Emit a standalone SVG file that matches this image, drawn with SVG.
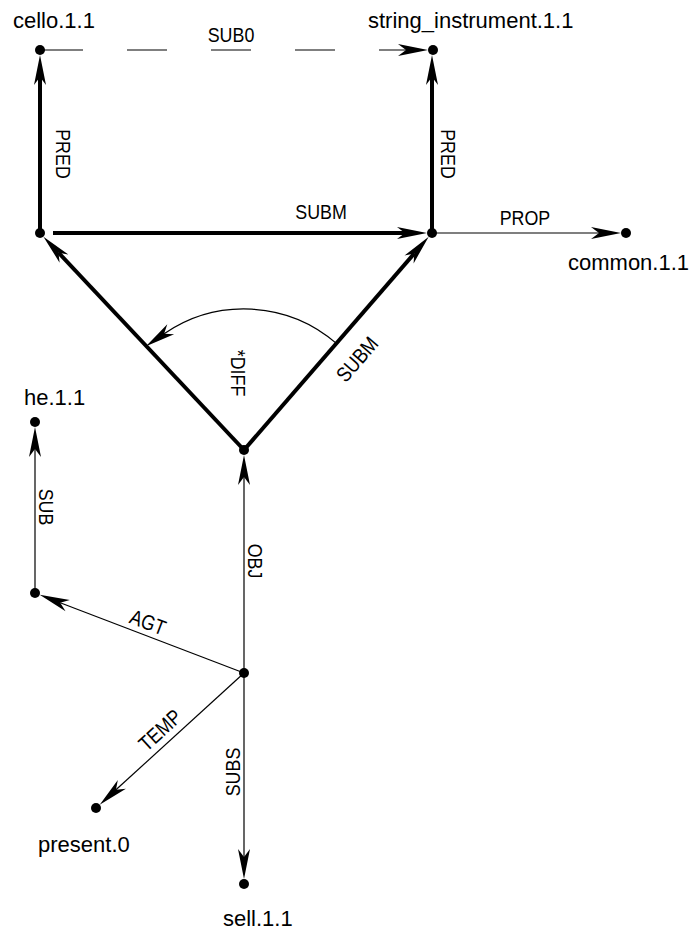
<svg xmlns="http://www.w3.org/2000/svg" width="695" height="933" viewBox="0 0 695 933">
  <style>
    .dot { fill: #000; }
    .name { font-family: "Liberation Sans", Arial, Helvetica, sans-serif; font-size: 22px; fill: #000; }
    .lbl { font-family: "Liberation Sans", Arial, Helvetica, sans-serif; font-size: 21px; fill: #000; text-anchor: middle; }
    .thin { stroke: #000; stroke-width: 1.2; fill: none; }
    .thick { stroke: #000; stroke-width: 4; fill: none; }
    .dash { stroke-dasharray: 40 44; }
  </style>
  <defs>
    <marker id="head" markerUnits="userSpaceOnUse" orient="auto" refX="0" refY="0" markerWidth="32" markerHeight="14" overflow="visible">
      <path d="M22,0 L-8,-6 L0,0 L-8,6 Z" fill="#000"/>
    </marker>
  </defs>

  <!-- connectors -->
  <g id="edges">
    <line class="thin dash" x1="43" y1="50" x2="406" y2="50" marker-end="url(#head)"/>
    <text class="lbl" transform="translate(231,42) scale(0.85,1)">SUB0</text>

    <line class="thick" x1="40" y1="233" x2="40" y2="77" marker-end="url(#head)"/>
    <text class="lbl" transform="translate(64,154) rotate(90) scale(0.85,1)" dy="7.5">PRED</text>

    <line class="thick" x1="432" y1="233" x2="432" y2="77" marker-end="url(#head)"/>
    <text class="lbl" transform="translate(449,154) rotate(90) scale(0.85,1)" dy="7.5">PRED</text>

    <line class="thick" x1="53" y1="233" x2="405" y2="233" marker-end="url(#head)"/>
    <text class="lbl" transform="translate(321,219) scale(0.85,1)">SUBM</text>

    <line class="thin" x1="432" y1="233" x2="599" y2="233" marker-end="url(#head)"/>
    <text class="lbl" transform="translate(525,225) scale(0.85,1)">PROP</text>

    <line class="thick" x1="244" y1="450" x2="58.5" y2="252.7" marker-end="url(#head)"/>
    <line class="thick" x1="244" y1="450" x2="414.3" y2="253.4" marker-end="url(#head)"/>
    <text class="lbl" transform="translate(357,359) rotate(-49.1) scale(0.85,1)" dy="7.5">SUBM</text>

    <path class="thin" d="M336.4,343.4 A141,141 0 0 0 164.1,333.8" marker-end="url(#head)"/>
    <text class="lbl" transform="translate(238.5,373) rotate(90) scale(0.85,1)" dy="7.5">*DIFF</text>

    <line class="thin" x1="244" y1="673" x2="244" y2="477" marker-end="url(#head)"/>
    <text class="lbl" transform="translate(256,561) rotate(90) scale(0.85,1)" dy="7.5">OBJ</text>

    <line class="thin" x1="35" y1="593" x2="35" y2="449" marker-end="url(#head)"/>
    <text class="lbl" transform="translate(47,507) rotate(90) scale(0.85,1)" dy="7.5">SUB</text>

    <line class="thin" x1="244" y1="673" x2="60.2" y2="602.7" marker-end="url(#head)"/>
    <text class="lbl" transform="translate(148,622) rotate(20.9) scale(0.85,1)" dy="7.5">AGT</text>

    <line class="thin" x1="244" y1="673" x2="115.95" y2="789.8" marker-end="url(#head)"/>
    <text class="lbl" transform="translate(160,730) rotate(-42.4) scale(0.85,1)" dy="7.5">TEMP</text>

    <line class="thin" x1="244" y1="673" x2="244" y2="857" marker-end="url(#head)"/>
    <text class="lbl" transform="translate(232,772) rotate(-90) scale(0.85,1)" dy="7.5">SUBS</text>
  </g>

  <!-- nodes -->
  <g id="cello">
    <circle class="dot" cx="40" cy="50" r="5"/>
    <text class="name" x="13" y="28">cello.1.1</text>
  </g>
  <g id="string_instrument">
    <circle class="dot" cx="433" cy="50" r="5"/>
    <text class="name" x="368" y="28">string_instrument.1.1</text>
  </g>
  <g id="cello_sub">
    <circle class="dot" cx="40" cy="233" r="5"/>
  </g>
  <g id="string_instrument_sub">
    <circle class="dot" cx="432" cy="233" r="5"/>
  </g>
  <g id="common">
    <circle class="dot" cx="626" cy="233" r="5"/>
    <text class="name" x="568" y="270">common.1.1</text>
  </g>
  <g id="diff">
    <circle class="dot" cx="244" cy="450" r="5"/>
  </g>
  <g id="he">
    <circle class="dot" cx="35" cy="422" r="5"/>
    <text class="name" x="24" y="405">he.1.1</text>
  </g>
  <g id="agent">
    <circle class="dot" cx="35" cy="593" r="5"/>
  </g>
  <g id="event">
    <circle class="dot" cx="244" cy="673" r="5"/>
  </g>
  <g id="present">
    <circle class="dot" cx="96" cy="808" r="5"/>
    <text class="name" x="38" y="852">present.0</text>
  </g>
  <g id="sell">
    <circle class="dot" cx="244" cy="884" r="5"/>
    <text class="name" x="223" y="926">sell.1.1</text>
  </g>
</svg>
